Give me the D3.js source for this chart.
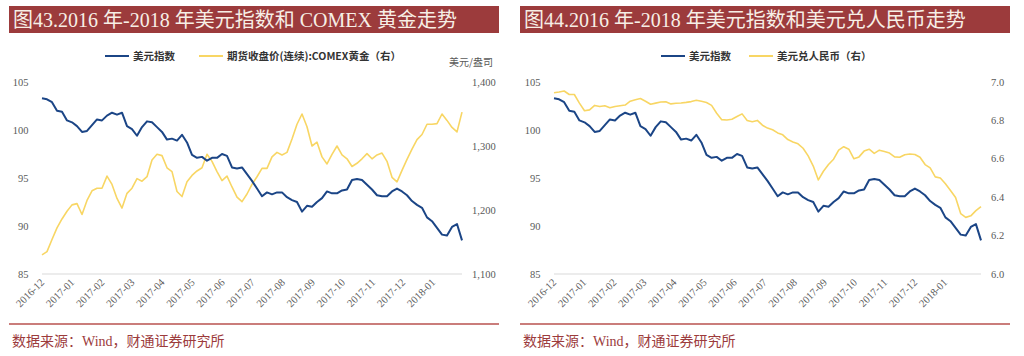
<!DOCTYPE html>
<html><head><meta charset="utf-8">
<script src="https://cdn.jsdelivr.net/npm/d3@7"></script>
<style>body{margin:0;background:#fff;}svg{display:block;}</style>
</head><body>
<svg id="c" width="1024" height="356"></svg>
<script>
// ---- data ----
const months = ["2016-12","2017-01","2017-02","2017-03","2017-04","2017-05","2017-06","2017-07","2017-08","2017-09","2017-10","2017-11","2017-12","2018-01"];
const dxy = [103.3,103.2,102.9,102.0,101.9,101.0,100.8,100.4,99.8,99.9,100.5,101.1,101.0,101.5,101.8,101.6,101.8,100.4,100.1,99.4,100.3,100.9,100.8,100.3,99.8,99.0,99.1,98.9,99.5,98.7,97.4,97.1,97.2,96.8,97.1,97.1,97.5,97.3,96.1,96.0,96.1,95.4,94.7,93.9,93.1,93.5,93.3,93.5,93.5,93.0,92.7,92.5,91.5,92.1,92.0,92.5,92.9,93.6,93.4,93.4,93.7,93.8,94.8,94.9,94.8,94.3,93.8,93.2,93.1,93.1,93.6,93.9,93.6,93.2,92.6,92.2,91.9,90.9,90.5,89.8,89.1,89.0,89.9,90.2,88.5];
const gold = [1130,1135,1154,1172,1186,1198,1208,1210,1193,1215,1230,1234,1234,1253,1240,1218,1203,1226,1234,1249,1245,1252,1278,1287,1285,1266,1260,1229,1221,1244,1254,1261,1266,1287,1276,1260,1246,1253,1236,1220,1213,1225,1240,1252,1265,1265,1283,1290,1286,1290,1311,1334,1350,1330,1300,1306,1283,1272,1287,1300,1286,1280,1268,1273,1280,1288,1280,1286,1289,1276,1251,1244,1262,1279,1295,1310,1318,1334,1334,1335,1350,1340,1329,1322,1353];
const cny = [6.944,6.948,6.953,6.935,6.935,6.890,6.850,6.855,6.878,6.872,6.876,6.866,6.872,6.876,6.880,6.900,6.908,6.914,6.900,6.884,6.890,6.896,6.897,6.886,6.889,6.891,6.894,6.898,6.905,6.900,6.893,6.878,6.837,6.804,6.802,6.806,6.820,6.834,6.800,6.793,6.800,6.775,6.760,6.751,6.735,6.725,6.700,6.688,6.678,6.655,6.615,6.562,6.490,6.535,6.570,6.598,6.645,6.663,6.650,6.600,6.610,6.640,6.650,6.628,6.645,6.638,6.630,6.610,6.608,6.621,6.625,6.622,6.608,6.570,6.553,6.506,6.500,6.470,6.435,6.398,6.315,6.295,6.303,6.330,6.351];
const leftTicks = [85,90,95,100,105];
const goldTicks = [1100,1200,1300,1400];
const cnyTicks = [6.0,6.2,6.4,6.6,6.8,7.0];

const titles = ["图43.2016 年-2018 年美元指数和 COMEX 黄金走势","图44.2016 年-2018 年美元指数和美元兑人民币走势"];
const legendNames = [["美元指数","期货收盘价(连续):COMEX黄金（右）"],["美元指数","美元兑人民币（右）"]];
const source = "数据来源：Wind，财通证券研究所";

const NAVY = "#1b4586", YEL = "#f8d664", RED = "#9c3b3c";
const serif = "'Liberation Serif','Noto Sans CJK SC',serif";
const svg = d3.select("#c");

function panel(opt){
  const g = svg.append("g");
  // title bar
  g.append("rect").attr("x",opt.bx).attr("y",6).attr("width",opt.bw).attr("height",27).attr("fill",RED);
  g.append("text").attr("x",opt.bx+4).attr("y",27).attr("fill","#f7efe6")
    .style("font-family",serif).style("font-size","20px").text(opt.title);
  // separator & source
  g.append("line").attr("x1",opt.bx).attr("x2",opt.bx+opt.bw).attr("y1",324).attr("y2",324)
    .attr("stroke","#b9524f").attr("stroke-width",1.5);
  g.append("text").attr("x",opt.bx+3).attr("y",346).attr("fill",RED)
    .style("font-family",serif).style("font-size","14px").text(source);

  const x = d3.scaleLinear().domain([0, dxy.length-1]).range([opt.x0, opt.x1]);
  const xl = d3.scaleLinear().domain([0, months.length-1]).range([opt.x0+3, opt.x0+394]);
  const yL = d3.scaleLinear().domain([85,105]).range([274,82]);
  const yR = d3.scaleLinear().domain(opt.rDomain).range([274,82]);

  // baseline
  g.append("line").attr("x1",opt.x0).attr("x2",opt.x1).attr("y1",yL(85)).attr("y2",yL(85))
    .attr("stroke","#d9d9d9").attr("stroke-width",1);

  // left ticks
  g.selectAll(null).data(leftTicks).join("text")
    .attr("x",opt.x0-13.5).attr("y",d=>yL(d)).attr("dy","0.35em").attr("text-anchor","end")
    .attr("fill","#595959").style("font-family",serif).style("font-size","10.5px").text(d=>d);
  // right ticks
  g.selectAll(null).data(opt.rTicks).join("text")
    .attr("x",opt.x1+10).attr("y",d=>yR(d)).attr("dy","0.35em").attr("text-anchor","start")
    .attr("fill","#595959").style("font-family",serif).style("font-size","10.5px").text(opt.rFmt);
  // x labels
  g.selectAll(null).data(months).join("text")
    .attr("transform",(d,i)=>`translate(${xl(i)},283) rotate(-45)`).attr("text-anchor","end")
    .attr("fill","#595959").style("font-family",serif).style("font-size","10.5px").text(d=>d);

  // lines
  g.append("path").datum(opt.rData).attr("fill","none").attr("stroke",YEL).attr("stroke-width",1.6)
    .attr("stroke-linejoin","round")
    .attr("d",d3.line().x((d,i)=>d3.scaleLinear().domain([0,opt.rData.length-1]).range([opt.x0,opt.x1])(i)).y(d=>yR(d)));
  g.append("path").datum(dxy).attr("fill","none").attr("stroke",NAVY).attr("stroke-width",2)
    .attr("stroke-linejoin","round")
    .attr("d",d3.line().x((d,i)=>x(i)).y(d=>yL(d)));

  // legend
  const lf = "'Noto Sans CJK SC',sans-serif";
  opt.legend.forEach((L,i)=>{
    g.append("line").attr("x1",L.lx).attr("x2",L.lx+24).attr("y1",56).attr("y2",56)
      .attr("stroke",i===0?NAVY:YEL).attr("stroke-width",2);
    g.append("text").attr("x",L.lx+28).attr("y",56).attr("dy","0.35em").attr("fill","#333")
      .style("font-family",lf).style("font-size","10.5px").style("font-weight","bold").text(opt.names[i]);
  });
  if(opt.unit){
    g.append("text").attr("x",opt.x1+31).attr("y",62).attr("dy","0.35em").attr("text-anchor","end")
      .attr("fill","#595959").style("font-family",lf).style("font-size","10px").text(opt.unit);
  }
}

panel({bx:9,bw:490,title:titles[0],x0:42,x1:462,rDomain:[1100,1400],rTicks:goldTicks,
  rFmt:d3.format(","),rData:gold,names:legendNames[0],legend:[{lx:105},{lx:199}],unit:"美元/盎司"});
panel({bx:520,bw:490,title:titles[1],x0:554,x1:981,rDomain:[6.0,7.0],rTicks:cnyTicks,
  rFmt:d3.format(".1f"),rData:cny,names:legendNames[1],legend:[{lx:661},{lx:749}],unit:null});
</script>
</body></html>
